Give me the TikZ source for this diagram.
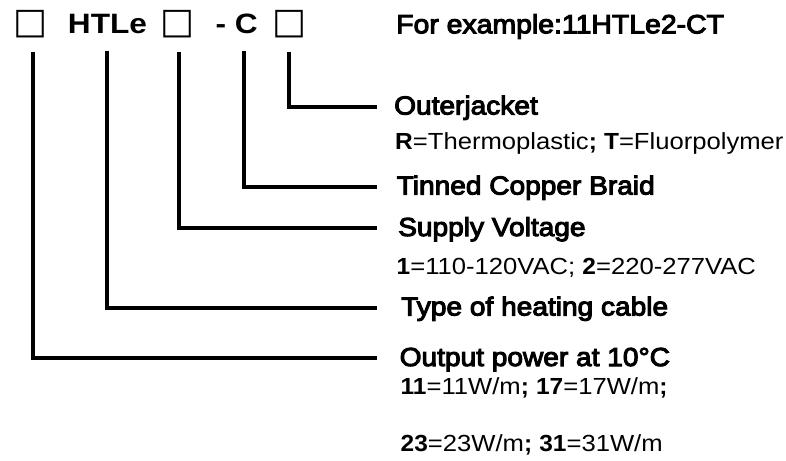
\documentclass[tikz,border=0pt]{standalone}
\usepackage{fontspec}
\setmainfont{Liberation Sans}
\newfontfamily\fmed[FakeStretch=1.08,FakeBold=4]{Liberation Sans}
\newfontfamily\freg[FakeStretch=1.1]{Liberation Sans}
\newfontfamily\fkey[FakeStretch=1.05]{Liberation Sans}
\newfontfamily\ftop[FakeStretch=1.13]{Liberation Sans}
\newfontfamily\fsq{DejaVu Sans}
\newcommand\keyb[1]{{\fkey\bfseries #1}}
\begin{document}
\begin{tikzpicture}[x=1pt,y=-1pt,
  sqbox/.style={anchor=base,inner sep=0pt,font=\fsq\fontsize{36}{38}\selectfont},
  codepart/.style={inner sep=0pt,font=\ftop\bfseries\fontsize{28}{32}\selectfont},
  example/.style={anchor=base west,inner sep=0pt,font=\fmed\fontsize{26.3}{30}\selectfont},
  head/.style={anchor=base west,inner sep=0pt,text height=16pt,text depth=0pt,font=\fmed\fontsize{26}{30}\selectfont},
  desc/.style={anchor=base west,inner sep=0pt,font=\freg\fontsize{23.3}{28}\selectfont},
  conn/.style={line width=4pt}]
\useasboundingbox (0,0) rectangle (786,460);
\fill[white] (0,0) rectangle (786,460);
% code line
\node[sqbox] (b1) at (30.8,34) {□};
\node[codepart,anchor=base] (ht) at (107.5,33.3) {HTLe};
\node[sqbox] (b2) at (178,34) {□};
\node[codepart,anchor=base east] (dc) at (258,33.3) {- C};
\node[sqbox] (b3) at (289.7,34) {□};
\node[example] (ex) at (396,33.3) {For example:11HTLe2-CT};
% headings
\node[head] (oj) at (394,114.5) {Outerjacket};
\node[desc] (ojd) at (395,149.3) {\keyb{R}=Thermoplastic\keyb{;} \keyb{T}=Fluorpolymer};
\node[head] (tc) at (396.5,194.5) {Tinned Copper Braid};
\node[head] (sv) at (398,236) {Supply Voltage};
\node[desc] (svd) at (396.5,274) {\keyb{1}=110-120VAC; \keyb{2}=220-277VAC};
\node[head] (ty) at (401,315.5) {Type of heating cable};
\node[head] (op) at (399.5,366) {Output power at 10°C};
\node[desc] (opd1) at (400.5,394) {\keyb{11}=11W/m\keyb{;} \keyb{17}=17W/m\keyb{;}};
\node[desc] (opd2) at (400.5,451.7) {\keyb{23}=23W/m\keyb{;} \keyb{31}=31W/m};
% connectors
\coordinate (rx) at (376.5,0);
\draw[conn] ([xshift=1.9pt,yshift=-18pt]b1.base) |- (rx |- op.west);
\draw[conn] ([xshift=-0.8pt,yshift=-18pt]ht.base) |- (rx |- ty.west);
\draw[conn] ([xshift=1pt,yshift=-18pt]b2.base) |- (rx |- sv.west);
\draw[conn] ([xshift=-13.7pt,yshift=-18pt]dc.base east) |- (rx |- tc.west);
\draw[conn] ([xshift=-0.4pt,yshift=-18pt]b3.base) |- (rx |- oj.west);
\end{tikzpicture}
\end{document}
